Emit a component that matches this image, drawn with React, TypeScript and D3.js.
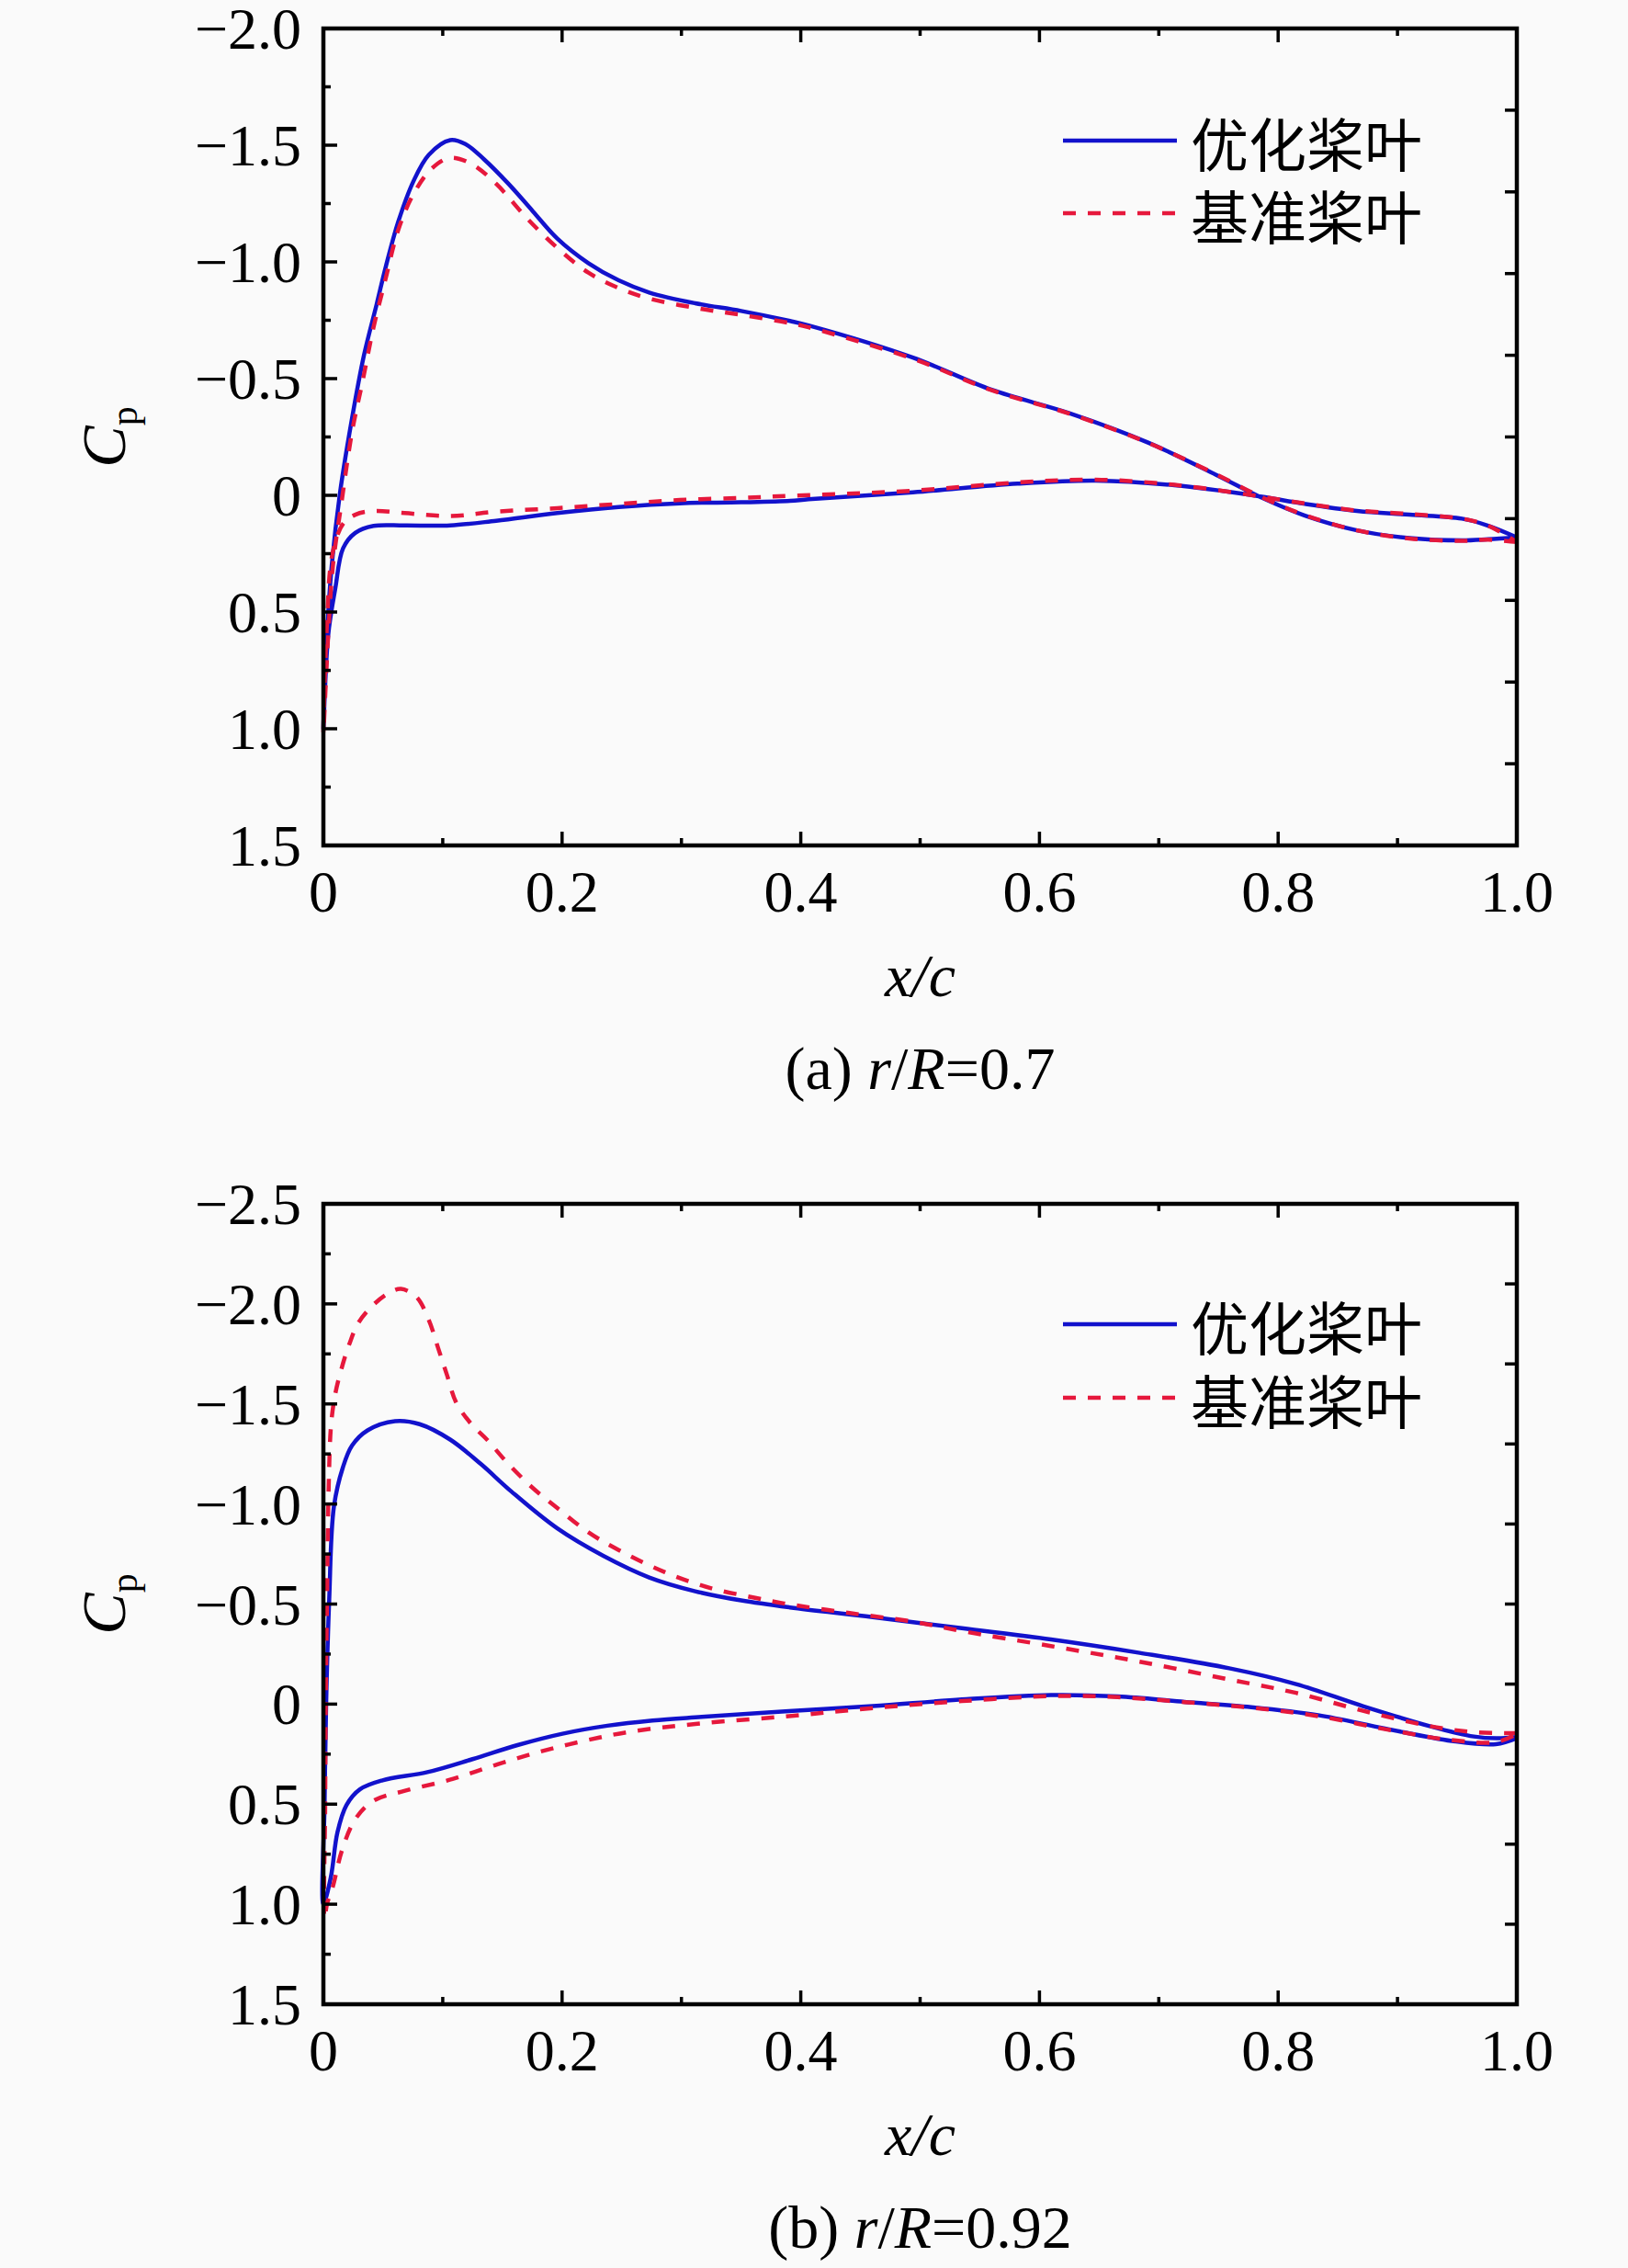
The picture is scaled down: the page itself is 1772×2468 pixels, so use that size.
import * as React from "react";
import * as d3 from "d3";

// ---- data (x/c, Cp) ----
// panel (a) r/R = 0.7
const optUpperA: [number, number][] = [
  [0, 1.0], [0.003, 0.6], [0.007, 0.3], [0.0139, -0.01], [0.024, -0.33], [0.034, -0.6],
  [0.0447, -0.82], [0.0523, -0.98], [0.0626, -1.17], [0.0754, -1.345], [0.0883, -1.459],
  [0.1062, -1.522], [0.119, -1.505], [0.1345, -1.44], [0.155, -1.335], [0.1755, -1.217],
  [0.196, -1.1], [0.222, -0.995], [0.2474, -0.921], [0.273, -0.869], [0.3115, -0.823],
  [0.35, -0.79], [0.391, -0.747], [0.4065, -0.728], [0.494, -0.59], [0.56, -0.452],
  [0.625, -0.352], [0.691, -0.226], [0.748, -0.088], [0.787, 0.012], [0.8225, 0.087],
  [0.866, 0.15], [0.91, 0.183], [0.954, 0.193], [0.976, 0.188], [1.0, 0.18],
];
const optLowerA: [number, number][] = [
  [0, 1.0], [0.004, 0.6], [0.01, 0.398], [0.0165, 0.227], [0.0267, 0.161], [0.042, 0.131],
  [0.068, 0.129], [0.1062, 0.129], [0.1447, 0.109], [0.196, 0.076], [0.2474, 0.05],
  [0.2987, 0.034], [0.35, 0.03], [0.391, 0.024], [0.4065, 0.017], [0.494, -0.013],
  [0.5816, -0.05], [0.647, -0.063], [0.713, -0.043], [0.779, 0.0], [0.8225, 0.037],
  [0.866, 0.067], [0.91, 0.083], [0.954, 0.1], [0.976, 0.13], [1.0, 0.18],
];
const baseUpperA: [number, number][] = [
  [0, 1.02], [0.004, 0.6], [0.008, 0.3], [0.0152, 0.03], [0.024, -0.272], [0.0331, -0.495],
  [0.042, -0.72], [0.052, -0.925], [0.0626, -1.135], [0.0754, -1.29], [0.0908, -1.4],
  [0.1062, -1.446], [0.124, -1.42], [0.1447, -1.335], [0.17, -1.19], [0.196, -1.06],
  [0.222, -0.954], [0.2474, -0.888], [0.273, -0.843], [0.3115, -0.803], [0.35, -0.773],
  [0.391, -0.738], [0.4065, -0.72], [0.494, -0.585], [0.56, -0.45], [0.625, -0.35],
  [0.691, -0.225], [0.748, -0.09], [0.787, 0.01], [0.8225, 0.085], [0.866, 0.15],
  [0.91, 0.185], [0.954, 0.195], [0.976, 0.19], [1.0, 0.2],
];
const baseLowerA: [number, number][] = [
  [0, 1.02], [0.003, 0.55], [0.0075, 0.253], [0.0165, 0.122], [0.0267, 0.083], [0.042, 0.067],
  [0.068, 0.076], [0.1062, 0.089], [0.1447, 0.07], [0.196, 0.055], [0.2474, 0.037],
  [0.2987, 0.02], [0.35, 0.011], [0.391, 0.002], [0.494, -0.02], [0.5816, -0.055],
  [0.647, -0.067], [0.713, -0.045], [0.779, 0.0], [0.8225, 0.035], [0.866, 0.065],
  [0.91, 0.08], [0.954, 0.1], [0.976, 0.13], [1.0, 0.2],
];

// panel (b) r/R = 0.92
const optUpperB: [number, number][] = [
  [0, 1.0], [0.001, 0.5], [0.0023, 0.0], [0.0049, -0.526], [0.0088, -0.986], [0.0164, -1.184],
  [0.024, -1.292], [0.037, -1.368], [0.06, -1.414], [0.0806, -1.399], [0.1062, -1.322],
  [0.1319, -1.2], [0.1576, -1.062], [0.196, -0.878], [0.2345, -0.741], [0.273, -0.633],
  [0.3115, -0.564], [0.35, -0.518], [0.391, -0.483], [0.4603, -0.435], [0.535, -0.379],
  [0.6096, -0.323], [0.684, -0.256], [0.759, -0.179], [0.815, -0.1], [0.871, 0.01],
  [0.927, 0.11], [0.964, 0.162], [0.983, 0.171], [1.0, 0.165],
];
const optLowerB: [number, number][] = [
  [0, 1.0], [0.0062, 0.866], [0.0118, 0.64], [0.0193, 0.505], [0.0306, 0.426], [0.0495, 0.381],
  [0.0872, 0.34], [0.125, 0.275], [0.1626, 0.205], [0.2003, 0.148], [0.238, 0.108],
  [0.2757, 0.082], [0.317, 0.064], [0.39, 0.035], [0.4603, 0.01], [0.535, -0.023],
  [0.6096, -0.045], [0.6655, -0.038], [0.7215, -0.011], [0.7775, 0.015], [0.8335, 0.055],
  [0.8895, 0.122], [0.9455, 0.184], [0.9824, 0.2], [1.0, 0.17],
];
const baseUpperB: [number, number][] = [
  [0.001, 1.07], [0.0015, 0.5], [0.002, 0.0], [0.003, -0.5], [0.0045, -1.1], [0.0065, -1.4],
  [0.01, -1.552], [0.0151, -1.675], [0.0216, -1.797], [0.0293, -1.905], [0.042, -1.996],
  [0.055, -2.055], [0.065, -2.075], [0.078, -2.034], [0.0883, -1.92], [0.096, -1.782],
  [0.1036, -1.644], [0.1113, -1.507], [0.124, -1.399], [0.137, -1.322], [0.155, -1.2],
  [0.1755, -1.08], [0.196, -0.98], [0.2217, -0.86], [0.2474, -0.77], [0.2858, -0.66],
  [0.3244, -0.58], [0.3628, -0.53], [0.386, -0.503], [0.441, -0.455], [0.496, -0.41],
  [0.535, -0.365], [0.6096, -0.29], [0.684, -0.212], [0.759, -0.123], [0.815, -0.056],
  [0.871, 0.033], [0.927, 0.11], [0.964, 0.14], [1.0, 0.145],
];
const baseLowerB: [number, number][] = [
  [0.001, 1.07], [0.003, 1.0], [0.008, 0.91], [0.0156, 0.73], [0.0269, 0.573], [0.042, 0.483],
  [0.0684, 0.433], [0.106, 0.378], [0.1438, 0.305], [0.1815, 0.238], [0.219, 0.183],
  [0.257, 0.138], [0.317, 0.096], [0.39, 0.06], [0.4603, 0.02], [0.535, -0.015],
  [0.6096, -0.04], [0.6655, -0.035], [0.7215, -0.01], [0.7775, 0.018], [0.8335, 0.06],
  [0.8895, 0.125], [0.9455, 0.18], [0.9824, 0.19], [1.0, 0.15],
];

const xTicks = [0, 0.2, 0.4, 0.6, 0.8, 1.0];
const xTickLabels = ["0", "0.2", "0.4", "0.6", "0.8", "1.0"];
const yTicksA = [-2.0, -1.5, -1.0, -0.5, 0, 0.5, 1.0, 1.5];
const yTicksB = [-2.5, -2.0, -1.5, -1.0, -0.5, 0, 0.5, 1.0, 1.5];
const seriesNames = ["优化桨叶", "基准桨叶"];
const captionsRR = ["0.7", "0.92"];

const BLUE = "#1212cc";
const RED = "#e6183c";
const SERIF = "'Liberation Serif', 'Times New Roman', serif";
const CJK = "'Noto Sans CJK SC', sans-serif";

const fmtY = (v: number) => (v === 0 ? "0" : (v < 0 ? "\u2212" : "") + Math.abs(v).toFixed(1));

interface PanelProps {
  top: number;
  bottom: number;
  yDomain: [number, number];
  yTicks: number[];
  legendY: [number, number];
  letter: string;
  rr: string;
  opt: [[number, number][], [number, number][]];
  base: [[number, number][], [number, number][]];
}

const LEFT = 352;
const RIGHT = 1651;

const Panel = (p: PanelProps) => {
  const x = d3.scaleLinear().domain([0, 1]).range([LEFT, RIGHT]);
  const y = d3.scaleLinear().domain(p.yDomain).range([p.top, p.bottom]);
  const line = d3
    .line<[number, number]>()
    .x((d) => x(d[0]))
    .y((d) => y(d[1]))
    .curve(d3.curveCatmullRom.alpha(0.5));
  // closed loop: trailing edge -> leading edge on the suction side, then back on pressure side
  const loop = (up: [number, number][], lo: [number, number][]) =>
    line([...up.slice().reverse(), ...lo.slice(1)]);

  const minorX = d3.range(0, 1.0001, 0.1);
  const minorY = d3.range(p.yDomain[0], p.yDomain[1] + 0.0001, 0.25);
  const rightTicks = d3.range(11).map((i) => p.yDomain[0] + (i * (p.yDomain[1] - p.yDomain[0])) / 10);
  const isMajorX = (v: number) => Math.abs(v * 5 - Math.round(v * 5)) < 1e-6;
  const isMajorY = (v: number) => Math.abs(v * 2 - Math.round(v * 2)) < 1e-6;
  const cy = (p.top + p.bottom) / 2;
  const cx = (LEFT + RIGHT) / 2;
  const legX0 = 1157;
  const legX1 = 1281;

  return (
    <g>
      {/* curves */}
      <path d={loop(p.opt[0], p.opt[1]) || ""} fill="none" stroke={BLUE} strokeWidth={4.5} />
      <path d={loop(p.base[0], p.base[1]) || ""} fill="none" stroke={RED} strokeWidth={4.5} strokeDasharray="14 13" />

      {/* ticks */}
      <g stroke="#000" strokeWidth={3.5}>
        {minorX.map((v, i) => {
          const len = isMajorX(v) ? 15 : 8;
          return (
            <g key={"tx" + i}>
              <line x1={x(v)} x2={x(v)} y1={p.bottom} y2={p.bottom - len} />
              <line x1={x(v)} x2={x(v)} y1={p.top} y2={p.top + len} />
            </g>
          );
        })}
        {minorY.map((v, i) => (
          <line key={"ty" + i} x1={LEFT} x2={LEFT + (isMajorY(v) ? 15 : 8)} y1={y(v)} y2={y(v)} />
        ))}
        {rightTicks.map((v, i) => (
          <line key={"tr" + i} x1={RIGHT} x2={RIGHT - 13} y1={y(v)} y2={y(v)} />
        ))}
      </g>

      {/* frame */}
      <rect x={LEFT} y={p.top} width={RIGHT - LEFT} height={p.bottom - p.top} fill="none" stroke="#000" strokeWidth={4.5} />

      {/* tick labels */}
      <g fontFamily={SERIF} fontSize={64} fill="#000">
        {xTicks.map((v, i) => (
          <text key={"lx" + i} x={x(v)} y={p.bottom + 72} textAnchor="middle">
            {xTickLabels[i]}
          </text>
        ))}
        {p.yTicks.map((v, i) => (
          <text key={"ly" + i} x={LEFT - 24} y={y(v) + 22} textAnchor="end">
            {fmtY(v)}
          </text>
        ))}
      </g>

      {/* axis titles */}
      <text
        transform={`translate(136,${cy}) rotate(-90)`}
        textAnchor="middle"
        fontFamily={SERIF}
        fontSize={68}
      >
        <tspan fontStyle="italic">C</tspan>
        <tspan fontSize={42} dy={13}>p</tspan>
      </text>
      <text x={cx} y={p.bottom + 164} textAnchor="middle" fontFamily={SERIF} fontSize={66} fontStyle="italic">
        x/c
      </text>
      <text x={cx} y={p.bottom + 265} textAnchor="middle" fontFamily={SERIF} fontSize={66}>
        ({p.letter}) <tspan fontStyle="italic">r</tspan>/<tspan fontStyle="italic">R</tspan>={p.rr}
      </text>

      {/* legend */}
      <line x1={legX0} x2={legX1} y1={p.legendY[0]} y2={p.legendY[0]} stroke={BLUE} strokeWidth={4.5} />
      <line x1={legX0} x2={legX1} y1={p.legendY[1]} y2={p.legendY[1]} stroke={RED} strokeWidth={4.5} strokeDasharray="14 13" />
      {seriesNames.map((n, i) => (
        <text key={n} x={1296} y={p.legendY[i]} dominantBaseline="central" fontFamily={CJK} fontSize={63}>
          {n}
        </text>
      ))}
    </g>
  );
};

export default function App() {
  return (
    <svg
      width={1772}
      height={2468}
      style={{ position: "absolute", left: 0, top: 0, background: "#fafafa" }}
    >
      <rect width={1772} height={2468} fill="#fafafa" />
      <Panel
        top={31}
        bottom={920}
        yDomain={[-2.0, 1.5]}
        yTicks={yTicksA}
        legendY={[153, 232]}
        letter="a"
        rr={captionsRR[0]}
        opt={[optUpperA, optLowerA]}
        base={[baseUpperA, baseLowerA]}
      />
      <Panel
        top={1310}
        bottom={2181}
        yDomain={[-2.5, 1.5]}
        yTicks={yTicksB}
        legendY={[1441, 1521]}
        letter="b"
        rr={captionsRR[1]}
        opt={[optUpperB, optLowerB]}
        base={[baseUpperB, baseLowerB]}
      />
    </svg>
  );
}
